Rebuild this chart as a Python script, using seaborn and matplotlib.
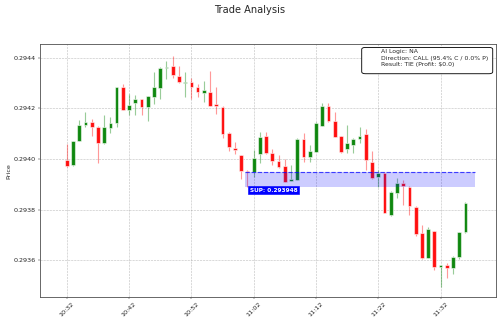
# plot.py
'''Candlestick view of a short trade window with a support zone'''

import matplotlib
matplotlib.use('Agg')
import matplotlib.pyplot as plt
from matplotlib.patches import FancyBboxPatch
from matplotlib.ticker import MultipleLocator, FormatStrFormatter
import numpy as np
import pandas as pd
import seaborn as sns

# one-minute candles, 10:32 -> 11:36
times = pd.date_range('2024-01-01 10:32', periods=65, freq='min')
opens = [0.293997, 0.293976, 0.294072, 0.294136, 0.294147, 0.294128, 0.294062, 0.294124,
         0.294143, 0.294283, 0.294195, 0.294221, 0.294237, 0.294204, 0.294246, 0.294282,
         0.294360, 0.294368, 0.294329, 0.294299, 0.294303, 0.294283, 0.294262, 0.294264,
         0.294216, 0.294207, 0.294104, 0.294045, 0.294016, 0.293953, 0.293950, 0.294020,
         0.294092, 0.294023, 0.293993, 0.293974, 0.293914, 0.293917, 0.294079, 0.294007,
         0.294029, 0.294132, 0.294210, 0.294151, 0.294091, 0.294038, 0.294055, 0.294079,
         0.294099, 0.293989, 0.293928, 0.293946, 0.293779, 0.293864, 0.293904, 0.293891,
         0.293809, 0.293709, 0.293610, 0.293715, 0.293574, 0.293581, 0.293568, 0.293611,
         0.293710]
highs = [0.294059, 0.294071, 0.294154, 0.294185, 0.294157, 0.294130, 0.294173, 0.294167,
         0.294286, 0.294295, 0.294257, 0.294253, 0.294239, 0.294250, 0.294343, 0.294362,
         0.294386, 0.294406, 0.294366, 0.294343, 0.294320, 0.294296, 0.294307, 0.294347,
         0.294286, 0.294210, 0.294108, 0.294066, 0.294017, 0.293956, 0.294036, 0.294106,
         0.294106, 0.294040, 0.294016, 0.294000, 0.293976, 0.294081, 0.294102, 0.294055,
         0.294145, 0.294220, 0.294223, 0.294187, 0.294092, 0.294134, 0.294081, 0.294128,
         0.294119, 0.294033, 0.293957, 0.293948, 0.293874, 0.293924, 0.293917, 0.293893,
         0.293814, 0.293739, 0.293732, 0.293717, 0.293582, 0.293590, 0.293617, 0.293712,
         0.293831]
lows = [0.293968, 0.293972, 0.294070, 0.294128, 0.294092, 0.293983, 0.294060, 0.294104,
        0.294125, 0.294193, 0.294175, 0.294175, 0.294175, 0.294149, 0.294217, 0.294237,
        0.294316, 0.294320, 0.294302, 0.294244, 0.294237, 0.294246, 0.294226, 0.294210,
        0.294178, 0.294082, 0.294033, 0.294020, 0.293920, 0.293890, 0.293928, 0.293985,
        0.294020, 0.293976, 0.293963, 0.293910, 0.293914, 0.293917, 0.293989, 0.293989,
        0.294028, 0.294130, 0.294147, 0.294087, 0.294025, 0.294025, 0.294025, 0.294062,
        0.293957, 0.293922, 0.293891, 0.293786, 0.293775, 0.293845, 0.293818, 0.293779,
        0.293696, 0.293606, 0.293608, 0.293561, 0.293495, 0.293528, 0.293545, 0.293604,
        0.293708]
closes = [0.293971, 0.294070, 0.294136, 0.294147, 0.294128, 0.294062, 0.294128, 0.294143,
          0.294283, 0.294195, 0.294215, 0.294237, 0.294207, 0.294248, 0.294283, 0.294360,
          0.294365, 0.294333, 0.294306, 0.294303, 0.294286, 0.294266, 0.294273, 0.294211,
          0.294211, 0.294099, 0.294046, 0.294036, 0.293954, 0.293948, 0.294003, 0.294088,
          0.294023, 0.293993, 0.293970, 0.293910, 0.293920, 0.294079, 0.294007, 0.294032,
          0.294141, 0.294210, 0.294151, 0.294088, 0.294028, 0.294062, 0.294079, 0.294092,
          0.293996, 0.293924, 0.293946, 0.293788, 0.293871, 0.293904, 0.293893, 0.293814,
          0.293704, 0.293607, 0.293722, 0.293572, 0.293581, 0.293568, 0.293611, 0.293710,
          0.293825]

support = 0.293948
zone_low = 0.293889
zone_span = [28.6, 65.5]  # candle index range covered by the zone
info_lines = ['AI Logic: NA',
              'Direction: CALL (95.4% C / 0.0% P)',
              'Result: TIE (Profit: $0.0)']

sns.set_style('ticks')
plt.rcParams['font.family'] = ['DejaVu Sans']

df = pd.DataFrame({'time': times, 'open': opens, 'high': highs,
                   'low': lows, 'close': closes})
df['x'] = np.arange(len(df))
df['up'] = df['close'] >= df['open']
df['color'] = np.where(df['up'], 'green', 'red')

fig = plt.figure(figsize=(12, 7.776), dpi=500 / 12)
ax = fig.add_subplot(111)
fig.subplots_adjust(left=0.08, right=0.992, top=0.863, bottom=0.0824)

# wicks then bodies
ax.vlines(df['x'], df['low'], df['high'], colors=df['color'], linewidth=2, alpha=0.4,
          zorder=2)
body_bottom = np.minimum(df['open'], df['close'])
body_height = np.abs(df['close'] - df['open'])
ax.bar(df['x'], body_height, bottom=body_bottom, width=0.6, color=df['color'],
       alpha=0.9, zorder=3)

# support zone
ax.fill_between(zone_span, zone_low, support, color='blue', alpha=0.2, linewidth=0,
                zorder=4)
ax.hlines(support, zone_span[0], zone_span[1], colors='blue', linestyles='--',
          linewidth=2, alpha=0.7, zorder=5)
ax.text(29.4, 0.293877, f'SUP: {support:.6f}', color='white', fontsize=10,
        fontweight='bold', ha='left', va='center', zorder=6,
        bbox=dict(facecolor='blue', edgecolor='blue', boxstyle='square,pad=0.3'))

# info box
box = FancyBboxPatch((0.7055, 0.884), 0.2873, 0.104, transform=ax.transAxes,
                     boxstyle='round,pad=0,rounding_size=0.008', facecolor='white',
                     edgecolor='black', linewidth=1.5, zorder=7)
ax.add_patch(box)
ax.text(0.747, 0.980, '\n'.join(info_lines), transform=ax.transAxes, fontsize=10.5,
        ha='left', va='top', linespacing=1.3, zorder=8)

ax.set_xlim(-4.3, 68.9)
ax.set_ylim(0.293453, 0.294453)
ax.yaxis.set_major_locator(MultipleLocator(0.0002))
ax.yaxis.set_major_formatter(FormatStrFormatter('%.4f'))
tick_pos = df['x'][::10]
ax.set_xticks(tick_pos)
ax.set_xticklabels(df['time'].dt.strftime('%H:%M')[::10], rotation=45)
ax.tick_params(labelsize=11)
ax.grid(True, linestyle='--', color='gray', alpha=0.5, linewidth=1)
ax.set_ylabel('Price', fontsize=11)
for spine in ax.spines.values():
    spine.set_color('#555555')
    spine.set_linewidth(1.5)

fig.suptitle('Trade Analysis', fontsize=17, y=0.985)

fig.savefig('out.png', dpi=500 / 12)
